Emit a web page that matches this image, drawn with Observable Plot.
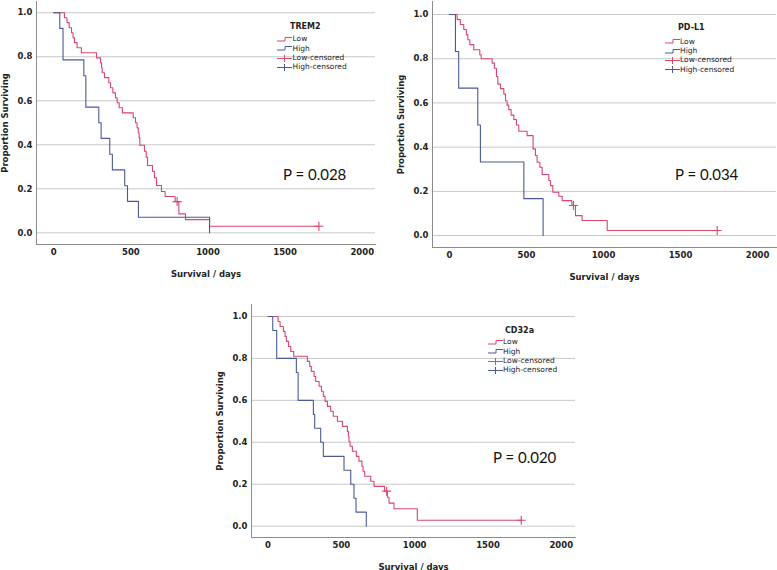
<!DOCTYPE html>
<html><head><meta charset="utf-8">
<script src="https://cdn.jsdelivr.net/npm/d3@7"></script>
<script src="https://cdn.jsdelivr.net/npm/@observablehq/plot@0.6"></script>
<style>
body{margin:0;background:#fff;}
#root{position:relative;width:777px;height:570px;overflow:hidden;background:#fff;font-family:"DejaVu Sans",sans-serif;}
.abs{position:absolute;white-space:nowrap;}
.abs svg{display:block;}
.sym{height:9px;line-height:0;}
.pval{font-family:Lato,"Open Sans",sans-serif;font-size:15px;color:#111;line-height:1;transform:translateY(-50%);}
.lgt{font-size:8px;font-weight:bold;color:#222;line-height:10px;}
.lge{font-size:7.5px;color:#222;line-height:10px;}
</style></head><body><div id="root"></div>
<script>
// ---- tick labels / categories ----
const xTicks = [0, 500, 1000, 1500, 2000];
const yTicks = [0, 0.2, 0.4, 0.6, 0.8, 1.0];
const groups = ["Low", "High"];
const legendLabels = ["Low", "High", "Low-censored", "High-censored"];
const markers = ["TREM2", "PD-L1", "CD32a"];
const pValues = ["0.028", "0.034", "0.020"];

// ---- TREM2 ----
const trem2LowTime = [0,69,86,100,115,125,134,151,179,277,303,310,314,329,357,368,383,400,411,424,445,515,530,540,548,553,558,588,599,608,640,653,666,698,722,787,811,854,1010,1719];
const trem2LowSurv = [1,0.977,0.955,0.932,0.909,0.886,0.864,0.841,0.818,0.795,0.773,0.75,0.727,0.705,0.682,0.659,0.636,0.614,0.591,0.568,0.545,0.523,0.5,0.477,0.455,0.432,0.398,0.371,0.344,0.306,0.28,0.25,0.215,0.188,0.165,0.142,0.086,0.06,0.03,0.03];
const trem2HighTime = [0,39,60,195,208,292,307,363,380,460,478,549,1010];
const trem2HighSurv = [1,0.929,0.786,0.714,0.571,0.5,0.429,0.357,0.286,0.214,0.143,0.071,0];
const trem2LowCensTime = [800, 1719];
const trem2LowCensSurv = [0.142, 0.03];

// ---- PD-L1 ----
const pdl1LowTime = [0,50,71,93,110,119,132,158,197,206,277,292,305,314,331,353,364,374,385,400,418,435,450,504,543,558,569,587,602,645,656,671,710,732,795,818,861,1024,1738];
const pdl1LowSurv = [1,0.977,0.955,0.932,0.909,0.886,0.864,0.841,0.818,0.8,0.78,0.757,0.72,0.685,0.665,0.64,0.61,0.59,0.57,0.545,0.525,0.5,0.472,0.452,0.392,0.362,0.332,0.309,0.276,0.249,0.226,0.196,0.178,0.158,0.136,0.09,0.068,0.023,0.023];
const pdl1HighTime = [0,39,60,184,201,483,608];
const pdl1HighSurv = [1,0.833,0.667,0.5,0.333,0.167,0];
const pdl1LowCensTime = [805, 1738];
const pdl1LowCensSurv = [0.136, 0.023];

// ---- CD32a ----
const cd32aLowTime = [0,68,82,105,116,125,140,155,175,268,284,295,314,325,348,364,377,389,405,427,445,473,507,541,548,552,559,575,602,620,640,648,659,700,723,795,814,825,859,1018,1727];
const cd32aLowSurv = [1,0.976,0.952,0.929,0.905,0.881,0.857,0.833,0.81,0.786,0.762,0.738,0.714,0.69,0.667,0.643,0.619,0.595,0.571,0.548,0.524,0.5,0.476,0.452,0.429,0.405,0.381,0.357,0.333,0.31,0.286,0.262,0.238,0.214,0.19,0.167,0.138,0.11,0.083,0.028,0.028];
const cd32aHighTime = [0,32,59,193,205,309,318,359,377,518,564,586,600,670];
const cd32aHighSurv = [1,0.933,0.8,0.733,0.6,0.533,0.467,0.4,0.333,0.267,0.2,0.133,0.067,0];
const cd32aLowCensTime = [809, 1727];
const cd32aLowCensSurv = [0.167, 0.028];

const LOW = "#d9466c", HIGH = "#4b5a97";
const table = (t, s) => t.map((d, i) => ({t: d, s: s[i]}));

const panels = [
  {name: markers[0], p: pValues[0], left: 0, top: 0, w: 390, h: 280, ml: 36, mr: 15, mt: 1, mb: 36,
   xd: [-112, 2086], yd: [-0.053, 1.051],
   low: table(trem2LowTime, trem2LowSurv), high: table(trem2HighTime, trem2HighSurv), cens: table(trem2LowCensTime, trem2LowCensSurv),
   lg: {tx: 290, ty: 27, sx: 277, ex: 292.5, rows: [39, 48.5, 58, 67.3]}, pv: {x: 283, y: 174}},
  {name: markers[1], p: pValues[1], left: 390, top: 0, w: 387, h: 280, ml: 42, mr: 1, mt: 1, mb: 33,
   xd: [-110, 2123], yd: [-0.054, 1.059],
   low: table(pdl1LowTime, pdl1LowSurv), high: table(pdl1HighTime, pdl1HighSurv), cens: table(pdl1LowCensTime, pdl1LowCensSurv),
   lg: {tx: 678, ty: 28, sx: 665, ex: 680, rows: [41.7, 51, 60.3, 69.7]}, pv: {x: 675, y: 174}},
  {name: markers[2], p: pValues[2], left: 190, top: 280, w: 400, h: 290, ml: 61, mr: 15, mt: 24, mb: 33,
   xd: [-113, 2097], yd: [-0.054, 1.057],
   low: table(cd32aLowTime, cd32aLowSurv), high: table(cd32aHighTime, cd32aHighSurv), cens: table(cd32aLowCensTime, cd32aLowCensSurv),
   lg: {tx: 505, ty: 330.7, sx: 488, ex: 503, rows: [342, 351.7, 361, 370.3]}, pv: {x: 493, y: 456.7}}
];

const root = document.getElementById("root");
const stepSym = `<svg width="15" height="9"><path d="M0,6H8V2.5H15" fill="none" stroke="COL" stroke-width="1"/></svg>`;
const censSym = `<svg width="15" height="9"><path d="M0,4.5H15M7.5,1V8" fill="none" stroke="COL" stroke-width="1"/></svg>`;

for (const P of panels) {
  const svg = Plot.plot({
    width: P.w, height: P.h,
    marginLeft: P.ml, marginRight: P.mr, marginTop: P.mt, marginBottom: P.mb,
    style: {fontFamily: "DejaVu Sans", fontSize: "8.5px", fontWeight: "bold", color: "#222", background: "transparent", overflow: "visible"},
    x: {domain: P.xd},
    y: {domain: P.yd},
    marks: [
      Plot.gridY(yTicks, {stroke: "#c8c8c8", strokeOpacity: 1}),
      Plot.frame({anchor: "left", stroke: "#8c8c8c"}),
      Plot.frame({anchor: "bottom", stroke: "#8c8c8c"}),
      Plot.axisY(yTicks, {tickSize: 0, tickPadding: 4, tickFormat: d => d.toFixed(1), label: "Proportion Surviving", labelAnchor: "center", labelOffset: 35, labelArrow: "none"}),
      Plot.axisX(xTicks, {tickSize: 0, tickPadding: 4, tickFormat: d => String(d), label: "Survival / days", labelAnchor: "center", labelOffset: 32, labelArrow: "none"}),
      Plot.line(P.low, {x: "t", y: "s", curve: "step-after", stroke: LOW, strokeWidth: 1.1}),
      Plot.line(P.high, {x: "t", y: "s", curve: "step-after", stroke: HIGH, strokeWidth: 1.1}),
      Plot.dot(P.cens, {x: "t", y: "s", symbol: "plus", r: 3, stroke: LOW, strokeWidth: 1.1})
    ]
  });
  svg.style.position = "absolute";
  svg.style.left = P.left + "px";
  svg.style.top = P.top + "px";
  root.appendChild(svg);

  // legend
  const L = P.lg;
  const add = (html, cls, x, y) => {
    const d = document.createElement("div");
    d.className = "abs " + cls;
    d.style.left = x + "px"; d.style.top = y + "px";
    d.innerHTML = html;
    root.appendChild(d);
  };
  add(P.name, "lgt", L.tx, L.ty - 5);
  const cols = [LOW, HIGH, LOW, HIGH];
  legendLabels.forEach((lab, i) => {
    const sym = (i < 2 ? stepSym : censSym).replace("COL", cols[i]);
    add(sym, "sym", L.sx, L.rows[i] - 4.5);
    add(lab, "lge", L.ex, L.rows[i] - 5);
  });
  add("P = " + P.p, "pval", P.pv.x, P.pv.y);
}
</script></body></html>
